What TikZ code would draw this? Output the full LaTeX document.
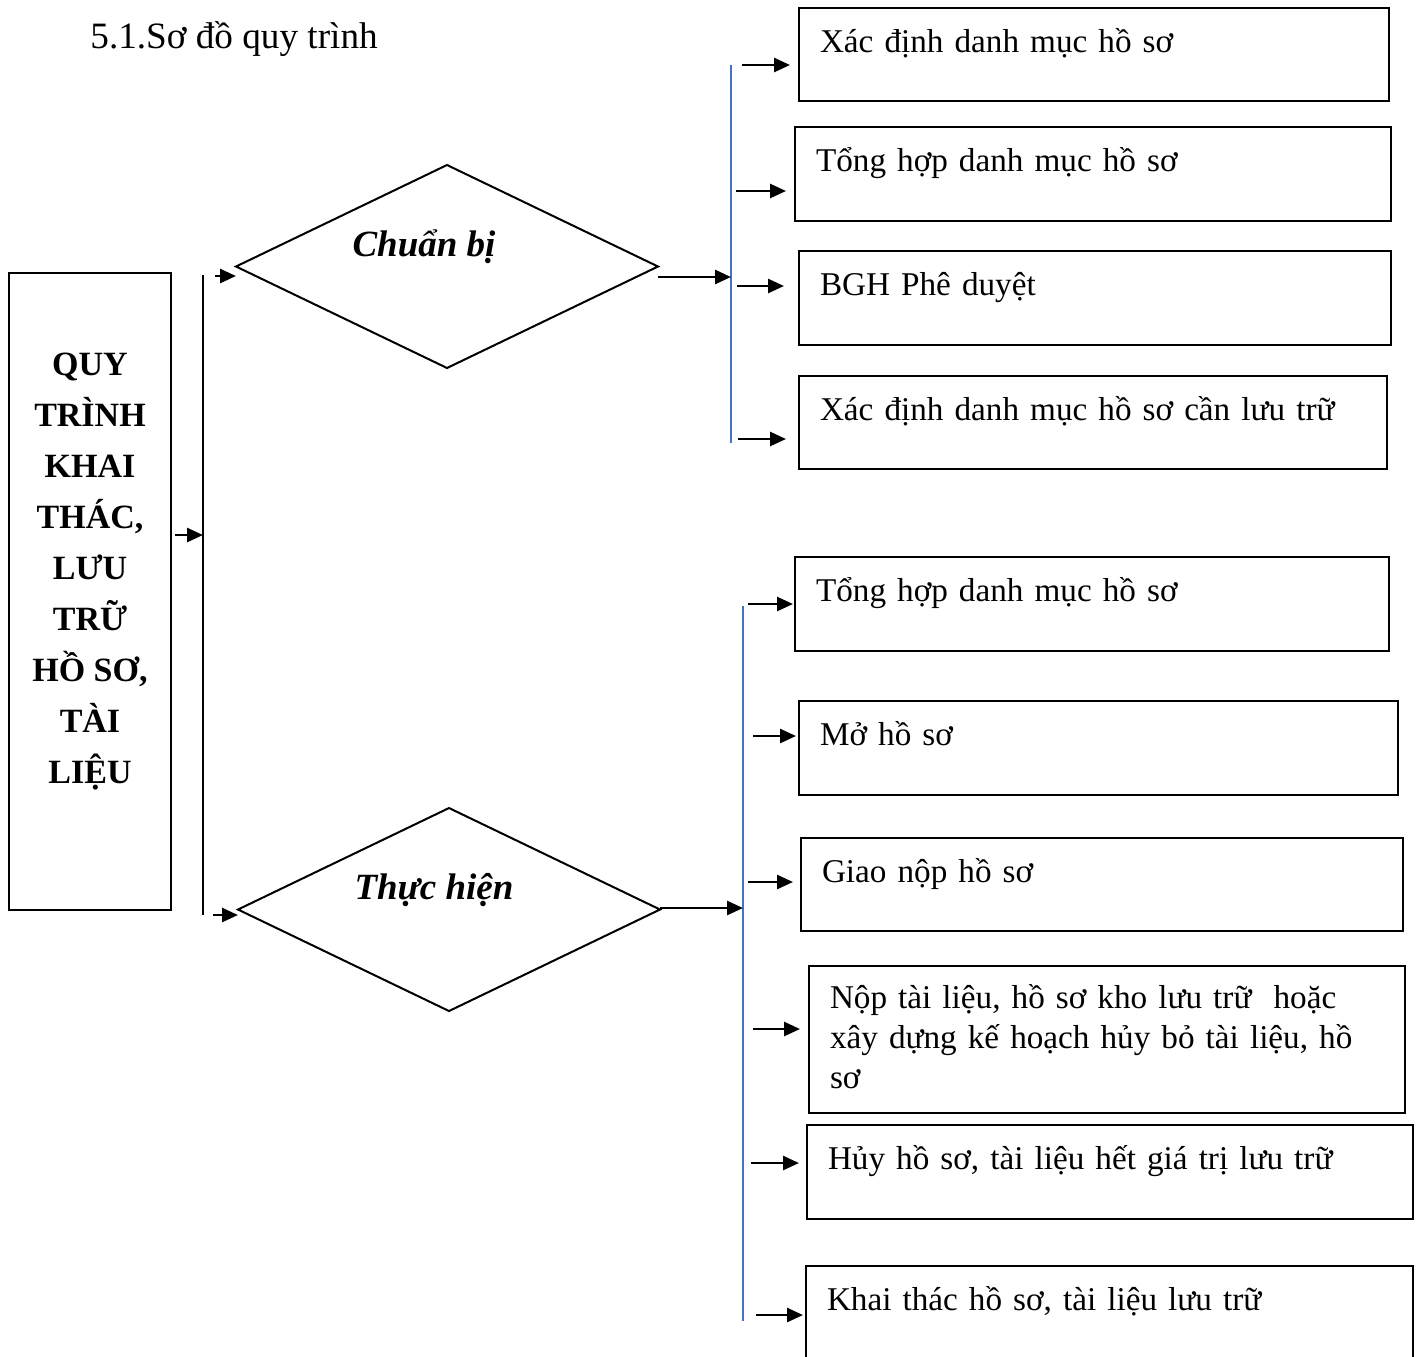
\documentclass[tikz,border=0pt]{standalone}
\usepackage{fontspec}
\setmainfont{Liberation Serif}
\usetikzlibrary{shapes.geometric,arrows.meta}
\definecolor{wordblue}{HTML}{4472C4}
\begin{document}
\begin{tikzpicture}[x=0.5pt,y=-0.5pt,
  arr/.style={line width=1.35pt,-{Triangle[length=8pt,width=7pt]}},
  stepbox/.style={draw,line width=1pt,rectangle,anchor=north west,outer sep=0pt,
    inner xsep=10.5pt,inner ysep=0pt,text height=22pt,align=left,
    font=\fontsize{16.6}{20}\selectfont},
  dia/.style={draw,diamond,line width=1pt,minimum width=211pt,minimum height=101.5pt,
    inner sep=0pt,outer sep=0pt},
  dialabel/.style={inner sep=0pt,font=\fontsize{18.5}{22}\selectfont\bfseries\itshape},
  blueline/.style={draw=wordblue,line width=0.9pt},
  blackline/.style={draw=black,line width=1.2pt}
]
\useasboundingbox (0,0) rectangle (1416,1356);
\clip (0,0) rectangle (1416,1356);

% title
\node[anchor=base west,inner sep=0pt,font=\fontsize{18.6}{22}\selectfont] (title) at (90,48) {5.1.Sơ đồ quy trình};

% main box
\node[draw,line width=1pt,rectangle,anchor=north west,outer sep=0pt,inner sep=0pt,
  minimum width=81pt,minimum height=318.5pt,
  label={[align=center,inner sep=0pt,yshift=9.75pt,font=\fontsize{17}{25.5}\selectfont\bfseries]center:QUY\\TRÌNH\\KHAI\\THÁC,\\LƯU\\TRỮ\\HỒ SƠ,\\TÀI\\LIỆU}]
  (main) at (9,273) {};

% diamonds
\node[dia,label={[dialabel,xshift=-11.5pt,yshift=9.75pt]center:Chuẩn bị}] (d1) at (447,266.5) {};
\node[dia,label={[dialabel,xshift=-7.5pt,yshift=9.75pt]center:Thực hiện}] (d2) at (449,909.5) {};

% top group boxes
\node[stepbox,text width=274pt,text depth=24.5pt] (b1) at (799,8) {Xác định danh mục hồ sơ};
\node[stepbox,text width=277pt,text depth=25pt] (b2) at (795,127) {Tổng hợp danh mục hồ sơ};
\node[stepbox,text width=275pt,text depth=25pt] (b3) at (799,251) {BGH Phê duyệt};
\node[stepbox,text width=273pt,text depth=24.5pt] (b4) at (799,376) {Xác định danh mục hồ sơ cần lưu trữ};

% bottom group boxes
\node[stepbox,text width=276pt,text depth=25pt] (b5) at (795,557) {Tổng hợp danh mục hồ sơ};
\node[stepbox,text width=278.5pt,text depth=25pt] (b6) at (799,701) {Mở hồ sơ};
\node[stepbox,text width=280pt,text depth=24.5pt] (b7) at (801,838) {Giao nộp hồ sơ};
\node[stepbox,text width=277pt,text height=21pt,text depth=52.5pt] (b8) at (809,966)
  {Nộp tài liệu, hồ sơ kho lưu trữ~ hoặc\\xây dựng kế hoạch hủy bỏ tài liệu, hồ\\sơ};
\node[stepbox,text width=282pt,text depth=25pt] (b9) at (807,1125) {Hủy hồ sơ, tài liệu hết giá trị lưu trữ};
\node[stepbox,text width=282.5pt,text depth=25pt] (b10) at (806,1266) {Khai thác hồ sơ, tài liệu lưu trữ};

% left black line and arrows
\coordinate (vt) at (203,275);
\coordinate (vb) at (203,915);
\draw[blackline] (vt) -- (vb);
\coordinate (m0) at (175,535);
\draw[arr] (m0) -- (m0 -| vt);
\coordinate (p1) at (215,276);
\draw[arr] (p1) -- (p1 -| d1.west);
\coordinate (p2) at (213,915);
\draw[arr] (p2) -- (p2 -| d2.west);

% top blue line
\coordinate (ut) at (731,65);
\coordinate (ub) at (731,443);
\draw[blueline] (ut) -- (ub);
\coordinate (q1) at (d1.east |- 0,277);
\draw[arr] (q1) -- (q1 -| ut);
\coordinate (a1) at (742,65);
\draw[arr,shorten >=4.5pt] (a1) -- (a1 -| b1.west);
\coordinate (a2) at (736,191);
\draw[arr,shorten >=4.5pt] (a2) -- (a2 -| b2.west);
\coordinate (a3) at (737,286);
\draw[arr,shorten >=7.5pt] (a3) -- (a3 -| b3.west);
\coordinate (a4) at (738,439);
\draw[arr,shorten >=6.5pt] (a4) -- (a4 -| b4.west);

% bottom blue line
\coordinate (lt) at (743,606);
\coordinate (lb) at (743,1321);
\draw[blueline] (lt) -- (lb);
\coordinate (q2) at (d2.east |- 0,908);
\draw[arr] (q2) -- (q2 -| lt);
\coordinate (c1) at (748,604);
\draw[arr,shorten >=1pt] (c1) -- (c1 -| b5.west);
\coordinate (c2) at (753,736);
\draw[arr,shorten >=1.5pt] (c2) -- (c2 -| b6.west);
\coordinate (c3) at (748,882);
\draw[arr,shorten >=4pt] (c3) -- (c3 -| b7.west);
\coordinate (c4) at (753,1029);
\draw[arr,shorten >=4.5pt] (c4) -- (c4 -| b8.west);
\coordinate (c5) at (751,1163);
\draw[arr,shorten >=4pt] (c5) -- (c5 -| b9.west);
\coordinate (c6) at (756,1315);
\draw[arr,shorten >=1.5pt] (c6) -- (c6 -| b10.west);
\end{tikzpicture}
\end{document}
